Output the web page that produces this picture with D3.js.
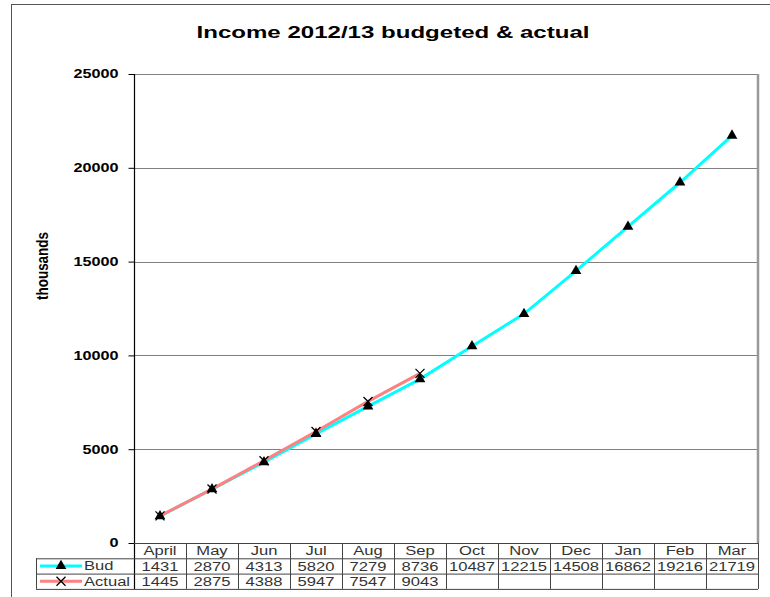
<!DOCTYPE html>
<html><head><meta charset="utf-8">
<script src="https://cdn.jsdelivr.net/npm/d3@7"></script>
<style>body{margin:0;background:#fff}svg{display:block}</style>
</head><body>
<svg id="c" width="770" height="597"></svg>
<script>
const title = "Income 2012/13 budgeted & actual";
const yLabel = "thousands";
const months = ["April","May","Jun","Jul","Aug","Sep","Oct","Nov","Dec","Jan","Feb","Mar"];
const budValues = [1431,2870,4313,5820,7279,8736,10487,12215,14508,16862,19216,21719];
const actualValues = [1445,2875,4388,5947,7547,9043];
const yTicks = [0,5000,10000,15000,20000,25000];
const seriesNames = ["Bud","Actual"];

const svg = d3.select("#c");
const L = 134, R = 758, T = 74, B = 543;
const rowH = 15.3;

function stretch(sel, k){
  sel.each(function(){
    const len = this.getComputedTextLength();
    d3.select(this).attr("textLength", len*k).attr("lengthAdjust","spacingAndGlyphs");
  });
}

svg.append("rect").attr("x",11.5).attr("y",4.5).attr("width",800).attr("height",620)
  .attr("fill","none").attr("stroke","#555").attr("stroke-width",1);

const x = d3.scaleBand().domain(months).range([L,R]).padding(0);
const y = d3.scaleLinear().domain([0,25000]).range([B,T]);

svg.append("g").selectAll("line").data(yTicks.filter(d=>d>0)).join("line")
  .attr("x1",L).attr("x2",R).attr("y1",d=>Math.round(y(d))+0.5).attr("y2",d=>Math.round(y(d))+0.5)
  .attr("stroke","#808080").attr("stroke-width",1);
svg.append("line").attr("x1",R).attr("x2",R).attr("y1",T).attr("y2",B)
  .attr("stroke","#999").attr("stroke-width",2.5);

const yAxis = d3.axisLeft(y).tickValues(yTicks).tickSize(6).tickPadding(10).tickFormat(d3.format("d"));
const ga = svg.append("g").attr("transform",`translate(${L+0.5},0)`).call(yAxis);
ga.select(".domain").remove();
ga.selectAll(".tick line").attr("stroke","#000");
ga.selectAll(".tick text").attr("font-family","Liberation Sans, Arial, sans-serif")
  .attr("font-size",12).attr("font-weight","bold").attr("fill","#000").call(stretch,1.35);
svg.append("line").attr("x1",L+0.5).attr("x2",L+0.5).attr("y1",T).attr("y2",B+3*rowH)
  .attr("stroke","#000").attr("stroke-width",1.2);

svg.append("text").attr("x",393).attr("y",38).attr("text-anchor","middle")
  .attr("font-family","Liberation Sans, Arial, sans-serif").attr("font-size",16.5)
  .attr("font-weight","bold").attr("fill","#000").text(title)
  .attr("textLength",393).attr("lengthAdjust","spacingAndGlyphs");
svg.append("text").attr("transform","translate(48,266) rotate(-90)").attr("text-anchor","middle")
  .attr("font-family","Liberation Sans Narrow, Arial Narrow, sans-serif").attr("font-size",16)
  .attr("font-weight","bold").attr("fill","#000").text(yLabel)
  .attr("textLength",68).attr("lengthAdjust","spacingAndGlyphs");

const line = d3.line().x((d,i)=>x(months[i])+x.bandwidth()/2).y(d=>y(d));
svg.append("path").datum(budValues).attr("d",line).attr("fill","none")
  .attr("stroke","#00FFFF").attr("stroke-width",3);
svg.append("path").datum(actualValues).attr("d",line).attr("fill","none")
  .attr("stroke","#FF8080").attr("stroke-width",3);

const tri = d3.symbol().type(d3.symbolTriangle).size(50);
function drawTri(g,cx,cy){ g.append("path").attr("d",tri()).attr("transform",`translate(${cx},${cy})`).attr("fill","#000"); }
function drawX(g,cx,cy){ const s=4.5;
  g.append("path").attr("d",`M${cx-s},${cy-s}L${cx+s},${cy+s}M${cx-s},${cy+s}L${cx+s},${cy-s}`)
   .attr("stroke","#000").attr("stroke-width",1.3).attr("fill","none"); }

const mg = svg.append("g");
budValues.forEach((v,i)=>drawTri(mg,x(months[i])+x.bandwidth()/2,y(v)));
actualValues.forEach((v,i)=>drawX(mg,x(months[i])+x.bandwidth()/2,y(v)));

const tg = svg.append("g");
const tableColor = "#444";
const legL = 36;
[[L,B],[legL,B+rowH],[legL,B+2*rowH],[legL,B+3*rowH]].forEach(([x0,yy])=>{
  tg.append("line").attr("x1",x0).attr("x2",R).attr("y1",yy+0.5).attr("y2",yy+0.5)
    .attr("stroke",tableColor).attr("stroke-width",1);
});
tg.append("line").attr("x1",legL+0.5).attr("x2",legL+0.5).attr("y1",B+rowH).attr("y2",B+3*rowH).attr("stroke",tableColor);
months.forEach((m,i)=>{
  const xx = x(m)+x.bandwidth();
  tg.append("line").attr("x1",Math.round(xx)+0.5).attr("x2",Math.round(xx)+0.5)
    .attr("y1",B).attr("y2",B+3*rowH).attr("stroke",tableColor);
});
const tf = "Liberation Sans, Arial, sans-serif";
const tk = 1.38;
months.forEach((m,i)=>{
  const cx = x(m)+x.bandwidth()/2;
  tg.append("text").attr("x",cx).attr("y",B+rowH-3).attr("text-anchor","middle")
    .attr("font-family",tf).attr("font-size",12).attr("fill","#333").text(m).call(stretch,tk);
  tg.append("text").attr("x",cx).attr("y",B+2*rowH-3).attr("text-anchor","middle")
    .attr("font-family",tf).attr("font-size",12).attr("fill","#333").text(budValues[i]).call(stretch,tk);
  if(i<actualValues.length)
    tg.append("text").attr("x",cx).attr("y",B+3*rowH-3).attr("text-anchor","middle")
      .attr("font-family",tf).attr("font-size",12).attr("fill","#333").text(actualValues[i]).call(stretch,tk);
});
const colors = ["#00FFFF","#FF8080"];
seriesNames.forEach((s,k)=>{
  const yy = B+rowH*(k+1)+rowH/2;
  tg.append("line").attr("x1",40).attr("x2",82).attr("y1",yy).attr("y2",yy)
    .attr("stroke",colors[k]).attr("stroke-width",3);
  if(k===0) drawTri(tg,61,yy); else drawX(tg,61,yy);
  tg.append("text").attr("x",84).attr("y",yy+4.5).attr("font-family",tf).attr("font-size",12)
    .attr("fill","#333").text(s).call(stretch,tk);
});
</script>
</body></html>
